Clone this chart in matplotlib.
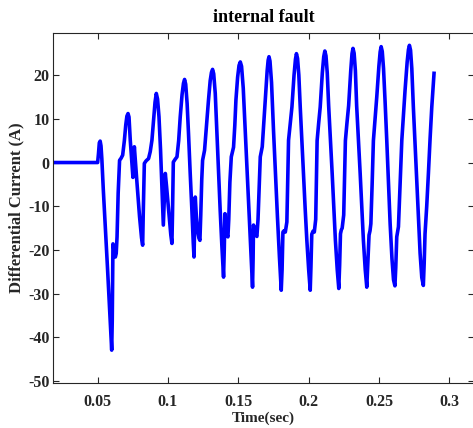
import matplotlib
matplotlib.use("Agg")
import matplotlib.pyplot as plt

# ---- data ----
time_s = [
    0.0185, 0.0500, 0.0506, 0.0512, 0.0518, 0.0524, 0.0530, 0.0540, 0.0555, 0.0570, 0.0585, 0.0596, 0.0600,
    0.0604, 0.0609, 0.0614, 0.0620, 0.0626, 0.0632, 0.0638, 0.0646, 0.0656, 0.0667, 0.0678, 0.0690, 0.0700,
    0.0708, 0.0716, 0.0723, 0.0732, 0.0742, 0.0751, 0.0755, 0.0761, 0.0768, 0.0780, 0.0798, 0.0812, 0.0820,
    0.0824, 0.0832, 0.0845, 0.0862, 0.0874, 0.0886, 0.0898, 0.0908, 0.0917, 0.0926, 0.0936, 0.0947, 0.0958,
    0.0967, 0.0973, 0.0981, 0.0990, 0.1005, 0.1020, 0.1028, 0.1032, 0.1038, 0.1050, 0.1064, 0.1076, 0.1087,
    0.1100, 0.1110, 0.1118, 0.1126, 0.1136, 0.1146, 0.1158, 0.1170, 0.1180, 0.1185, 0.1189, 0.1194, 0.1202,
    0.1210, 0.1220, 0.1227, 0.1233, 0.1240, 0.1246, 0.1260, 0.1274, 0.1288, 0.1300, 0.1309, 0.1317, 0.1325,
    0.1336, 0.1348, 0.1360, 0.1371, 0.1383, 0.1395, 0.1400, 0.1405, 0.1412, 0.1420, 0.1426, 0.1432, 0.1440,
    0.1450, 0.1466, 0.1475, 0.1483, 0.1495, 0.1505, 0.1514, 0.1523, 0.1535, 0.1549, 0.1563, 0.1577, 0.1590,
    0.1601, 0.1605, 0.1608, 0.1615, 0.1625, 0.1632, 0.1640, 0.1648, 0.1656, 0.1670, 0.1682, 0.1693, 0.1705,
    0.1712, 0.1718, 0.1725, 0.1736, 0.1750, 0.1764, 0.1778, 0.1792, 0.1805, 0.1811, 0.1817, 0.1825, 0.1834,
    0.1845, 0.1851, 0.1857, 0.1869, 0.1881, 0.1896, 0.1906, 0.1913, 0.1921, 0.1930, 0.1940, 0.1952, 0.1963,
    0.1975, 0.1987, 0.2000, 0.2011, 0.2016, 0.2022, 0.2031, 0.2040, 0.2050, 0.2055, 0.2060, 0.2071, 0.2082,
    0.2097, 0.2107, 0.2115, 0.2123, 0.2132, 0.2142, 0.2155, 0.2167, 0.2179, 0.2190, 0.2203, 0.2214, 0.2220,
    0.2226, 0.2232, 0.2238, 0.2249, 0.2255, 0.2261, 0.2272, 0.2284, 0.2299, 0.2308, 0.2315, 0.2323, 0.2332,
    0.2341, 0.2354, 0.2366, 0.2378, 0.2389, 0.2402, 0.2413, 0.2419, 0.2429, 0.2436, 0.2442, 0.2451, 0.2460,
    0.2472, 0.2484, 0.2499, 0.2508, 0.2515, 0.2523, 0.2532, 0.2543, 0.2555, 0.2567, 0.2579, 0.2592, 0.2603,
    0.2613, 0.2619, 0.2626, 0.2632, 0.2638, 0.2650, 0.2662, 0.2674, 0.2685, 0.2700, 0.2709, 0.2716, 0.2724,
    0.2733, 0.2744, 0.2756, 0.2768, 0.2780, 0.2792, 0.2804, 0.2815, 0.2821, 0.2827, 0.2839, 0.2851, 0.2863,
    0.2875, 0.2891,
]
current_a = [
    0.0, 0.0, 2.0, 4.5, 4.9, 3.8, 0.8, -6.0, -15.0, -24.0, -33.5, -40.5, -42.9,
    -36.0, -18.6, -19.5, -21.0, -21.6, -20.8, -17.0, -7.0, 0.5, 1.0, 1.7, 5.0, 8.6,
    10.6, 11.2, 10.4, 5.1, 0.5, -3.4, -1.0, 3.6, 0.5, -4.8, -12.4, -17.2, -18.9,
    -12.0, -0.2, 0.4, 0.9, 2.5, 5.1, 10.0, 13.8, 15.8, 14.5, 10.5, 3.0, -6.5,
    -14.3, -9.0, -2.5, -5.5, -11.0, -16.5, -18.5, -12.0, 0.1, 0.7, 1.3, 5.0, 10.4,
    15.5, 18.1, 19.0, 17.9, 13.5, 6.6, -2.5, -10.9, -18.5, -21.6, -15.0, -7.9, -12.5,
    -15.5, -17.3, -17.8, -12.0, -4.0, 0.5, 2.8, 8.5, 14.3, 18.7, 20.6, 21.3, 20.3,
    15.8, 6.6, -2.5, -10.9, -19.0, -26.2, -20.0, -11.7, -14.5, -16.5, -17.0, -13.0, -4.5,
    1.3, 3.5, 8.5, 14.3, 19.5, 22.2, 23.0, 22.0, 17.0, 7.4, -2.2, -11.7, -21.0,
    -28.5, -22.0, -14.3, -15.5, -16.6, -16.9, -13.0, -5.5, 1.3, 3.6, 9.5, 15.0, 21.0,
    23.4, 24.2, 23.2, 18.3, 7.4, -2.5, -12.4, -21.5, -29.2, -24.5, -15.9, -15.6, -15.9,
    -13.6, -4.0, 5.1, 9.0, 12.7, 20.0, 23.6, 24.9, 23.8, 20.0, 12.7, 5.0, -2.5,
    -10.5, -17.8, -24.5, -29.2, -24.0, -16.4, -15.7, -15.9, -13.0, -4.0, 5.0, 9.0, 12.7,
    20.5, 24.2, 25.5, 24.4, 20.5, 13.0, 5.0, -2.5, -10.5, -17.8, -24.5, -28.8, -23.5,
    -16.3, -15.4, -15.0, -12.0, -3.5, 5.0, 9.0, 13.0, 21.0, 24.9, 26.1, 25.0, 21.0,
    13.0, 5.0, -2.5, -10.5, -17.8, -24.5, -28.5, -24.0, -16.6, -15.6, -14.0, -5.0, 5.0,
    10.0, 15.0, 22.0, 25.3, 26.5, 25.4, 21.5, 14.0, 5.1, -4.5, -14.0, -22.0, -26.8,
    -28.2, -24.0, -17.0, -15.8, -14.7, -5.0, 5.1, 11.0, 16.5, 23.0, 25.8, 26.8, 25.7,
    21.5, 12.7, 4.5, -4.0, -12.5, -20.8, -26.3, -28.1, -23.0, -16.3, -10.0, -2.5, 5.5,
    12.7, 20.4,
]

x_ticks = [0.05, 0.10, 0.15, 0.20, 0.25, 0.30]
x_tick_labels = ["0.05", "0.1", "0.15", "0.2", "0.25", "0.3"]
y_ticks = [-50, -40, -30, -20, -10, 0, 10, 20]

plt.rcParams['font.family'] = ['Liberation Serif', 'DejaVu Serif']
plt.rcParams['font.weight'] = 'bold'
plt.rcParams['axes.unicode_minus'] = False

fig = plt.figure(figsize=(4.73, 4.28), dpi=100)
ax = fig.add_axes([0.1127, 0.1063, 0.8894, 0.8159])

ax.plot(time_s, current_a, color=(0, 0, 1), linewidth=2.6, solid_joinstyle='round')

ax.set_xlim(0.0185, 0.3175)
ax.set_ylim(-50.3, 29.55)
ax.set_xticks(x_ticks)
ax.set_xticklabels(x_tick_labels)
ax.set_yticks(y_ticks)

edge = '#262626'
for s in ax.spines.values():
    s.set_color(edge)
    s.set_linewidth(0.8)
ax.tick_params(direction='in', top=True, right=True, length=4, width=0.8,
               colors=edge, labelsize=11.5, labelcolor='#262626')
ax.tick_params(axis='x', pad=8.5)
ax.tick_params(axis='y', pad=2.5)
for lab in ax.get_xticklabels() + ax.get_yticklabels():
    lab.set_fontweight('bold')

ax.set_xlabel('Time(sec)', fontsize=11, fontweight='bold', color='#262626', labelpad=1)
ax.set_ylabel('Differential Current (A)', fontsize=12, fontweight='bold', color='#262626', labelpad=3)
ax.set_title('internal fault', fontsize=13, fontweight='bold', color='black', pad=8)

fig.savefig('out.png', dpi=100)
